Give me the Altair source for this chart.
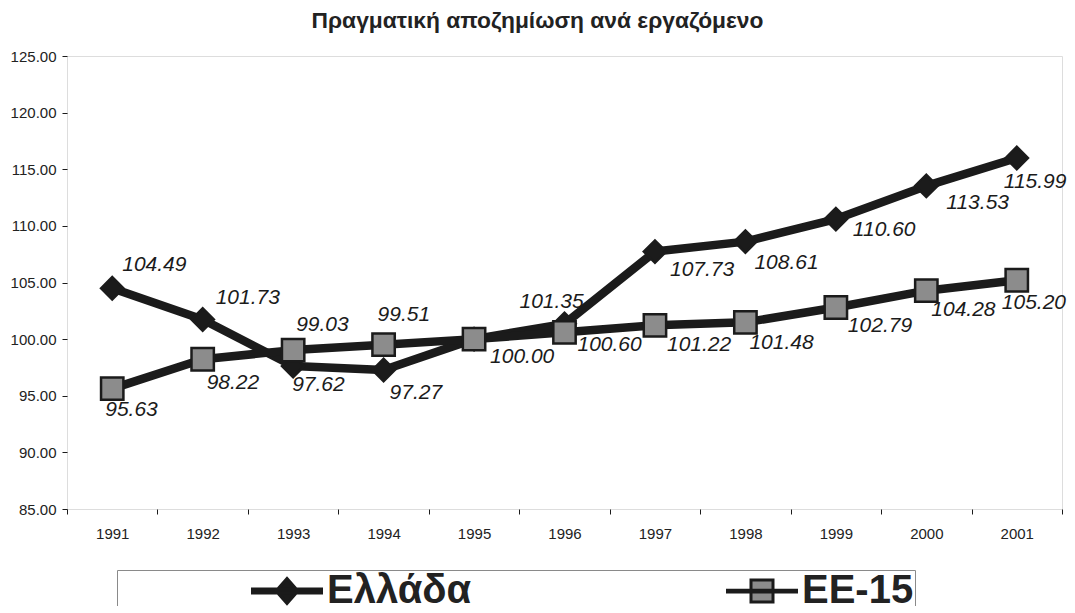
import altair as alt
import pandas as pd

# ---------------- data ----------------
years = ["1991", "1992", "1993", "1994", "1995", "1996", "1997", "1998", "1999", "2000", "2001"]
greece = [104.49, 101.73, 97.62, 97.27, 100.00, 101.35, 107.73, 108.61, 110.60, 113.53, 115.99]
eu15 = [95.63, 98.22, 99.03, 99.51, 100.00, 100.60, 101.22, 101.48, 102.79, 104.28, 105.20]
series_names = ["Ελλάδα", "ΕΕ-15"]
title_text = "Πραγματική αποζημίωση ανά εργαζόμενο"
y_ticks = [85, 90, 95, 100, 105, 110, 115, 120, 125]

# label placement (pixel offsets of each value label from its point; None = not shown)
label_offsets = {
    "Ελλάδα": [(10, -23), (13, -22), (-1, 19), (6, 23), None, (-45, -22),
               (15, 18), (9, 21), (17, 11), (20, 17), (-13, 24)],
    "ΕΕ-15": [(-7, 21), (4, 24), (3, -25), (-6, -30), (16, 18), (13, 13),
              (12, 20), (4, 21), (12, 18), (5, 19), (-15, 23)],
}

rows = []
for s, vals in zip(series_names, [greece, eu15]):
    for yr, v in zip(years, vals):
        rows.append({"year": yr, "series": s, "value": v})
df = pd.DataFrame(rows)

DARK = "#1b1b1b"
GRAY = "#8c8c8c"
FONT = "Liberation Sans"
NB = "\u00a0"

# legend symbols: line + marker drawn as one custom path (unit = symbol radius)
PATH_GR = "M-2.76,-0.16L2.76,-0.16L2.76,0.16L-2.76,0.16Z M0,-1L0.88,0L0,1L-0.88,0Z"
PATH_EU = "M-2.76,-0.07L2.76,-0.07L2.76,0.07L-2.76,0.07Z M-0.88,-0.88L0.88,-0.88L0.88,0.88L-0.88,0.88Z"

x_enc = alt.X(
    "year:N", sort=years,
    scale=alt.Scale(type="band", paddingInner=0, paddingOuter=0),
    axis=alt.Axis(title=None, labelAngle=0, tickBand="extent", tickSize=5,
                  domain=False, grid=False, labelFontSize=15, labelPadding=12,
                  labelColor="#222", tickColor=DARK, labelFont=FONT),
)
y_enc = alt.Y(
    "value:Q",
    scale=alt.Scale(domain=[85, 125], nice=False, zero=False),
    axis=alt.Axis(title=None, values=y_ticks, format=".2f", grid=False,
                  domain=False, tickSize=5, labelPadding=6, labelFontSize=15,
                  labelColor="#222", tickColor=DARK, labelFont=FONT),
)

base = alt.Chart(df)

is_eu = "datum.value === 'ΕΕ-15'"
legend = alt.Legend(
    orient="none", legendX=50, legendY=514, direction="horizontal",
    columns=2, columnPadding=121, padding=1, title=None,
    labelFontSize=40, labelFont=FONT, labelFontWeight="bold", labelColor="#222",
    labelLimit=1000, symbolOffset=149, labelOffset=20,
    labelExpr=is_eu + " ? datum.label + '" + NB * 11 + "' : datum.label",
    symbolSize=625, symbolOpacity=1, strokeColor="#8a8a8a",
    symbolType=alt.ExprRef(expr=is_eu + " ? '" + PATH_EU + "' : '" + PATH_GR + "'"),
    symbolFillColor=alt.ExprRef(expr=is_eu + " ? '" + GRAY + "' : '" + DARK + "'"),
    symbolStrokeColor=DARK, symbolStrokeWidth=3,
)

lines = base.mark_line(strokeWidth=8.5, strokeJoin="round").encode(
    x=x_enc, y=y_enc,
    stroke=alt.Stroke("series:N",
                      scale=alt.Scale(domain=series_names, range=[DARK, DARK]),
                      legend=legend),
)

points_gr = base.transform_filter(alt.datum.series == series_names[0]).mark_point(
    shape="diamond", filled=True, opacity=1, size=500, fill=DARK, stroke=DARK,
    strokeWidth=2.5,
).encode(x=x_enc, y=y_enc)

points_eu = base.transform_filter(alt.datum.series == series_names[1]).mark_point(
    shape="square", filled=True, opacity=1, size=500, fill=GRAY, stroke=DARK,
    strokeWidth=2.5,
).encode(x=x_enc, y=y_enc)

labels = []
for s in series_names:
    for i, yr in enumerate(years):
        off = label_offsets[s][i]
        if off is None:
            continue
        dx, dy = off
        labels.append(
            base.transform_filter(
                (alt.datum.series == s) & (alt.datum.year == yr)
            ).mark_text(
                align="left", baseline="middle", dx=dx, dy=dy,
                fontStyle="italic", fontSize=21, font=FONT, color=DARK,
            ).encode(x=x_enc, y=y_enc, text=alt.Text("value:Q", format=".2f"))
        )

chart = alt.layer(lines, points_gr, points_eu, *labels).properties(
    width=995, height=453,
    autosize=alt.AutoSizeParams(type="none"),
    padding={"left": 59, "top": 48, "right": 5, "bottom": 97},
    title=alt.TitleParams(title_text, fontSize=22.8, font=FONT, fontWeight="bold",
                          anchor="middle", color="#222", offset=16, dx=-27,
                          frame="group"),
).configure_view(stroke=DARK, strokeWidth=3.5).configure(background="white")

chart.save("out.html", embed_options={"renderer": "svg", "actions": False})
